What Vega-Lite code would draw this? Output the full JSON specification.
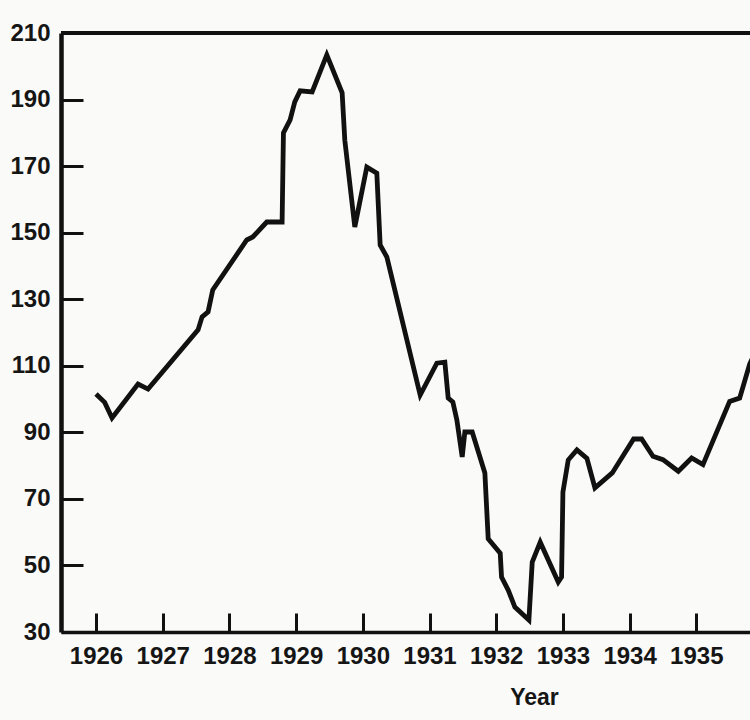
{
  "$schema": "https://vega.github.io/schema/vega-lite/v6.json",
  "width": 689,
  "height": 599,
  "autosize": {"type": "none"},
  "padding": {"left": 61, "top": 33, "right": 0, "bottom": 88},
  "background": "#fafaf8",
  "config": {"view": {"stroke": null}, "font": "Liberation Sans"},
  "data": {
    "values": [
      {"year": 1926.0, "index": 101.5},
      {"year": 1926.13, "index": 99},
      {"year": 1926.24, "index": 94.3},
      {"year": 1926.63, "index": 104.5},
      {"year": 1926.78, "index": 103},
      {"year": 1927.53, "index": 120.8},
      {"year": 1927.59, "index": 124.7},
      {"year": 1927.68, "index": 126.2},
      {"year": 1927.75, "index": 132.8},
      {"year": 1928.26, "index": 147.8},
      {"year": 1928.35, "index": 148.7},
      {"year": 1928.49, "index": 151.7},
      {"year": 1928.56, "index": 153.2},
      {"year": 1928.79, "index": 153.2},
      {"year": 1928.81, "index": 180},
      {"year": 1928.91, "index": 183.9},
      {"year": 1928.98, "index": 189.3},
      {"year": 1929.06, "index": 192.6},
      {"year": 1929.24, "index": 192.3},
      {"year": 1929.46, "index": 203.4},
      {"year": 1929.69, "index": 192},
      {"year": 1929.73, "index": 177.8},
      {"year": 1929.88, "index": 151.7},
      {"year": 1930.06, "index": 169.7},
      {"year": 1930.21, "index": 167.9},
      {"year": 1930.26, "index": 146.3},
      {"year": 1930.36, "index": 142.7},
      {"year": 1930.86, "index": 101.2},
      {"year": 1931.11, "index": 110.8},
      {"year": 1931.23, "index": 111.1},
      {"year": 1931.28, "index": 100.3},
      {"year": 1931.35, "index": 99.1},
      {"year": 1931.41, "index": 93.7},
      {"year": 1931.49, "index": 82.6},
      {"year": 1931.53, "index": 90.1},
      {"year": 1931.64, "index": 90.1},
      {"year": 1931.83, "index": 77.8},
      {"year": 1931.88, "index": 58},
      {"year": 1932.06, "index": 53.7},
      {"year": 1932.08, "index": 46.5},
      {"year": 1932.18, "index": 42.6},
      {"year": 1932.28, "index": 37.5},
      {"year": 1932.49, "index": 33.6},
      {"year": 1932.54, "index": 51},
      {"year": 1932.66, "index": 57},
      {"year": 1932.93, "index": 45},
      {"year": 1932.98, "index": 46.5},
      {"year": 1933.0, "index": 72},
      {"year": 1933.08, "index": 81.7},
      {"year": 1933.21, "index": 84.7},
      {"year": 1933.36, "index": 82.2},
      {"year": 1933.48, "index": 73.3},
      {"year": 1933.74, "index": 77.8},
      {"year": 1934.06, "index": 88},
      {"year": 1934.18, "index": 88},
      {"year": 1934.35, "index": 82.8},
      {"year": 1934.5, "index": 81.8},
      {"year": 1934.73, "index": 78.3},
      {"year": 1934.93, "index": 82.3},
      {"year": 1935.1, "index": 80.3},
      {"year": 1935.5, "index": 99.3},
      {"year": 1935.65, "index": 100.3},
      {"year": 1935.8, "index": 110.5},
      {"year": 1935.95, "index": 117}
    ]
  },
  "layer": [
    {
      "mark": {"type": "line", "color": "#111111", "strokeWidth": 4.8, "strokeJoin": "miter", "strokeMiterLimit": 4, "clip": true},
      "encoding": {
        "x": {
          "field": "year",
          "type": "quantitative",
          "scale": {"domain": [1925.475, 1935.805], "nice": false, "zero": false},
          "axis": {
            "values": [1926, 1927, 1928, 1929, 1930, 1931, 1932, 1933, 1934, 1935, 1936],
            "format": "d",
            "grid": false,
            "domainColor": "#111111",
            "domainWidth": 3.5,
            "tickColor": "#111111",
            "tickWidth": 3,
            "tickSize": -19,
            "labelPadding": 31,
            "labelFlush": false,
            "labelOverlap": false,
            "labelBound": false,
            "labelFontSize": 24,
            "labelFontWeight": "bold",
            "labelColor": "#151515",
            "title": "Year",
            "titleFontSize": 23,
            "titleFontWeight": "bold",
            "titleColor": "#151515",
            "titleAlign": "center",
            "titleBaseline": "top",
            "titleX": 473,
            "titleY": 54
          }
        },
        "y": {
          "field": "index",
          "type": "quantitative",
          "scale": {"domain": [30, 210], "nice": false, "zero": false},
          "axis": {
            "values": [30, 50, 70, 90, 110, 130, 150, 170, 190, 210],
            "grid": false,
            "domainColor": "#111111",
            "domainWidth": 4.5,
            "tickColor": "#111111",
            "tickWidth": 3,
            "tickSize": -22,
            "labelPadding": 33,
            "labelFlush": false,
            "labelOverlap": false,
            "labelFontSize": 24,
            "labelFontWeight": "bold",
            "labelColor": "#151515",
            "title": null
          }
        }
      }
    },
    {
      "mark": {"type": "rule", "color": "#111111", "strokeWidth": 3.5},
      "encoding": {"y": {"datum": 210, "type": "quantitative"}}
    }
  ]
}
